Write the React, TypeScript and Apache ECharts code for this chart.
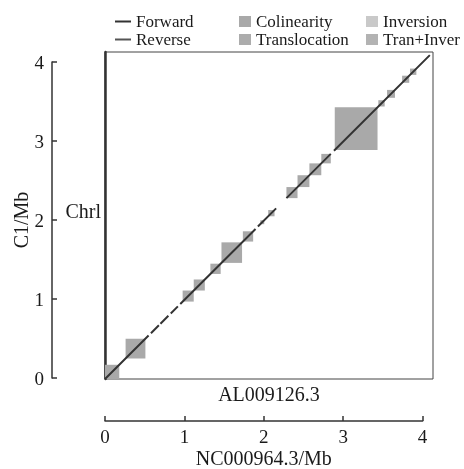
import React, { useEffect, useRef } from 'react';
import * as echarts from 'echarts';

// Synteny blocks along the diagonal (Mb)
const blockStart = [0.0, 0.26, 0.98, 1.12, 1.33, 1.47, 1.74, 1.96, 2.06, 2.29, 2.43, 2.58, 2.73, 2.9, 3.45, 3.56, 3.75, 3.85];
const blockEnd = [0.18, 0.51, 1.12, 1.26, 1.46, 1.73, 1.87, 2.01, 2.14, 2.43, 2.58, 2.73, 2.85, 3.44, 3.53, 3.66, 3.84, 3.93];
// Forward alignment segments (Mb)
const forwardStart = [0.0, 0.58, 0.7, 0.83, 0.95, 1.93, 2.29, 2.89];
const forwardEnd = [0.55, 0.68, 0.8, 0.92, 1.9, 2.16, 2.85, 4.1];
const scaleTicks = [0, 1, 2, 3, 4];
const genomeLen = 4.14;

const legendLines = ['Forward', 'Reverse'];
const legendBlocksA = ['Colinearity', 'Translocation'];
const legendBlocksB = ['Inversion', 'Tran+Inver'];

export default function App() {
  const ref = useRef<HTMLDivElement>(null);
  useEffect(() => {
    const chart = echarts.init(ref.current!, null, { renderer: 'svg' });
    const font = '"Liberation Serif", "Times New Roman", serif';
    const txt = '#1a1a1a';
    const lineData: any[] = [];
    forwardStart.forEach((s, i) => {
      lineData.push([s, s]);
      lineData.push([forwardEnd[i], forwardEnd[i]]);
      lineData.push(['-', '-']);
    });
    const blockData = blockStart.map((s, i) => [s, blockEnd[i]]);
    const renderBlock = (params: any, api: any) => {
      const a = api.value(0);
      const b = api.value(1);
      const p0 = api.coord([a, a]);
      const p1 = api.coord([b, b]);
      return {
        type: 'rect',
        shape: { x: p0[0], y: p1[1], width: p1[0] - p0[0], height: p0[1] - p1[1] },
        style: { fill: api.visual('color') },
      };
    };
    const legendCommon = {
      orient: 'vertical',
      top: 8,
      itemGap: 1,
      textStyle: { fontFamily: font, fontSize: 17, color: txt, lineHeight: 17 },
      selectedMode: false,
    };
    chart.setOption({
      animation: false,
      textStyle: { fontFamily: font },
      legend: [
        { ...legendCommon, left: 110, itemWidth: 16, itemHeight: 2, icon: 'rect', data: legendLines },
        { ...legendCommon, left: 234, itemWidth: 12, itemHeight: 11, icon: 'rect', data: legendBlocksA },
        { ...legendCommon, left: 361, itemWidth: 12, itemHeight: 11, icon: 'rect', data: legendBlocksB },
      ],
      grid: [
        { left: 105, top: 52, width: 328, height: 327, show: true, borderColor: '#444', borderWidth: 1, backgroundColor: 'transparent' },
        { left: 105, top: 411, width: 317.6, height: 10 },
        { left: 52, top: 62, width: 10, height: 316 },
      ],
      xAxis: [
        {
          gridIndex: 0, type: 'value', min: 0, max: genomeLen,
          axisLine: { show: false }, axisTick: { show: false }, axisLabel: { show: false }, splitLine: { show: false },
          name: 'AL009126.3', nameLocation: 'middle', nameGap: 5,
          nameTextStyle: { fontFamily: font, fontSize: 20, color: txt },
        },
        {
          gridIndex: 1, type: 'value', min: 0, max: 4, interval: 1,
          axisLine: { lineStyle: { color: '#333', width: 1.5 } },
          axisTick: { inside: true, length: 5, lineStyle: { color: '#333', width: 1.5 } },
          axisLabel: { fontFamily: font, fontSize: 19, color: txt, margin: 6, formatter: (v: number) => (scaleTicks.includes(v) ? String(v) : '') },
          splitLine: { show: false },
          name: 'NC000964.3/Mb', nameLocation: 'middle', nameGap: 27,
          nameTextStyle: { fontFamily: font, fontSize: 20, color: txt },
        },
        { gridIndex: 2, type: 'value', show: false, min: 0, max: 1 },
      ],
      yAxis: [
        {
          gridIndex: 0, type: 'value', min: 0, max: genomeLen,
          axisLine: { show: true, lineStyle: { color: '#333', width: 2.5 } },
          axisTick: { show: false }, axisLabel: { show: false }, splitLine: { show: false },
          name: 'Chrl', nameLocation: 'middle', nameRotate: 0, nameGap: 4,
          nameTextStyle: { fontFamily: font, fontSize: 20, color: txt, verticalAlign: 'bottom', lineHeight: 9 },
        },
        { gridIndex: 1, type: 'value', show: false, min: 0, max: 1 },
        {
          gridIndex: 2, type: 'value', min: 0, max: 4, interval: 1, position: 'left',
          axisLine: { show: true, lineStyle: { color: '#333', width: 1.5 } },
          axisTick: { inside: true, length: 5, lineStyle: { color: '#333', width: 1.5 } },
          axisLabel: { fontFamily: font, fontSize: 19, color: txt, margin: 8 },
          splitLine: { show: false },
          name: 'C1/Mb', nameLocation: 'middle', nameGap: 18,
          nameTextStyle: { fontFamily: font, fontSize: 20, color: txt },
        },
      ],
      series: [
        {
          name: 'Colinearity', type: 'custom', xAxisIndex: 0, yAxisIndex: 0,
          renderItem: renderBlock, data: blockData, encode: { x: [0, 1], y: [0, 1] },
          itemStyle: { color: '#a9a9a9' },
        },
        { name: 'Translocation', type: 'custom', xAxisIndex: 0, yAxisIndex: 0, renderItem: renderBlock, data: [], itemStyle: { color: '#acacac' } },
        { name: 'Inversion', type: 'custom', xAxisIndex: 0, yAxisIndex: 0, renderItem: renderBlock, data: [], itemStyle: { color: '#c9c9c9' } },
        { name: 'Tran+Inver', type: 'custom', xAxisIndex: 0, yAxisIndex: 0, renderItem: renderBlock, data: [], itemStyle: { color: '#b3b3b3' } },
        {
          name: 'Forward', type: 'line', xAxisIndex: 0, yAxisIndex: 0, data: lineData,
          symbol: 'none', connectNulls: false, lineStyle: { color: '#333', width: 2 }, itemStyle: { color: '#333' },
        },
        {
          name: 'Reverse', type: 'line', xAxisIndex: 0, yAxisIndex: 0, data: [],
          symbol: 'none', lineStyle: { color: '#555', width: 2 }, itemStyle: { color: '#555' },
        },
      ],
    });
    return () => chart.dispose();
  }, []);
  return <div ref={ref} style={{ position: 'fixed', left: 0, top: 0, width: 464, height: 469 }} />;
}
